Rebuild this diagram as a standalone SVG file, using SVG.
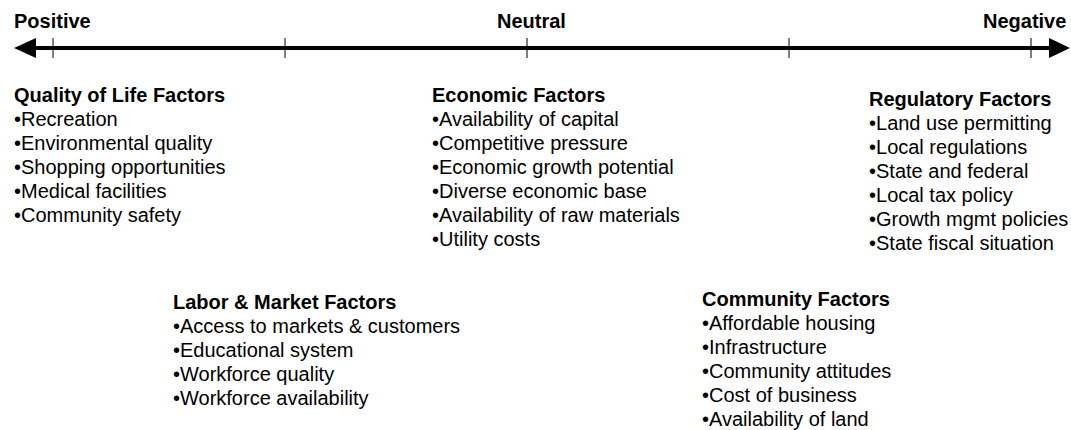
<svg xmlns="http://www.w3.org/2000/svg" width="1071" height="430" viewBox="0 0 1071 430">
<style>
text{font-family:"Liberation Sans",Arial,sans-serif;fill:#000;font-size:20px}
.h{font-weight:bold}
.tick{stroke:#000;stroke-width:1}
</style>
<rect width="1071" height="430" fill="#fff"/>
<g id="axis">
<line x1="30" y1="48" x2="1054" y2="48" stroke="#000" stroke-width="4"/>
<polygon points="14,48 36,38 36,58" fill="#000"/>
<polygon points="1070,48 1049,38 1049,58" fill="#000"/>
<line class="tick" x1="53" y1="38" x2="53" y2="58"/>
<line class="tick" x1="285" y1="38" x2="285" y2="58"/>
<line class="tick" x1="527" y1="38" x2="527" y2="58"/>
<line class="tick" x1="789" y1="38" x2="789" y2="58"/>
<line class="tick" x1="1031" y1="38" x2="1031" y2="58"/>
<text class="h" x="14" y="28">Positive</text>
<text class="h" x="497" y="28">Neutral</text>
<text class="h" x="983" y="28">Negative</text>
</g>
<g id="quality">
<text class="h" x="14" y="102">Quality of Life Factors</text>
<text x="14" y="126">•Recreation</text>
<text x="14" y="150">•Environmental quality</text>
<text x="14" y="174">•Shopping opportunities</text>
<text x="14" y="198">•Medical facilities</text>
<text x="14" y="222">•Community safety</text>
</g>
<g id="economic">
<text class="h" x="432" y="102">Economic Factors</text>
<text x="432" y="126">•Availability of capital</text>
<text x="432" y="150">•Competitive pressure</text>
<text x="432" y="174">•Economic growth potential</text>
<text x="432" y="198">•Diverse economic base</text>
<text x="432" y="222">•Availability of raw materials</text>
<text x="432" y="246">•Utility costs</text>
</g>
<g id="regulatory">
<text class="h" x="869" y="106">Regulatory Factors</text>
<text x="869" y="130">•Land use permitting</text>
<text x="869" y="154">•Local regulations</text>
<text x="869" y="178">•State and federal</text>
<text x="869" y="202">•Local tax policy</text>
<text x="869" y="226">•Growth mgmt policies</text>
<text x="869" y="250">•State fiscal situation</text>
</g>
<g id="labor">
<text class="h" x="173" y="309">Labor &amp; Market Factors</text>
<text x="173" y="333">•Access to markets &amp; customers</text>
<text x="173" y="357">•Educational system</text>
<text x="173" y="381">•Workforce quality</text>
<text x="173" y="405">•Workforce availability</text>
</g>
<g id="community">
<text class="h" x="702" y="306">Community Factors</text>
<text x="702" y="330">•Affordable housing</text>
<text x="702" y="354">•Infrastructure</text>
<text x="702" y="378">•Community attitudes</text>
<text x="702" y="402">•Cost of business</text>
<text x="702" y="426">•Availability of land</text>
</g>
</svg>
